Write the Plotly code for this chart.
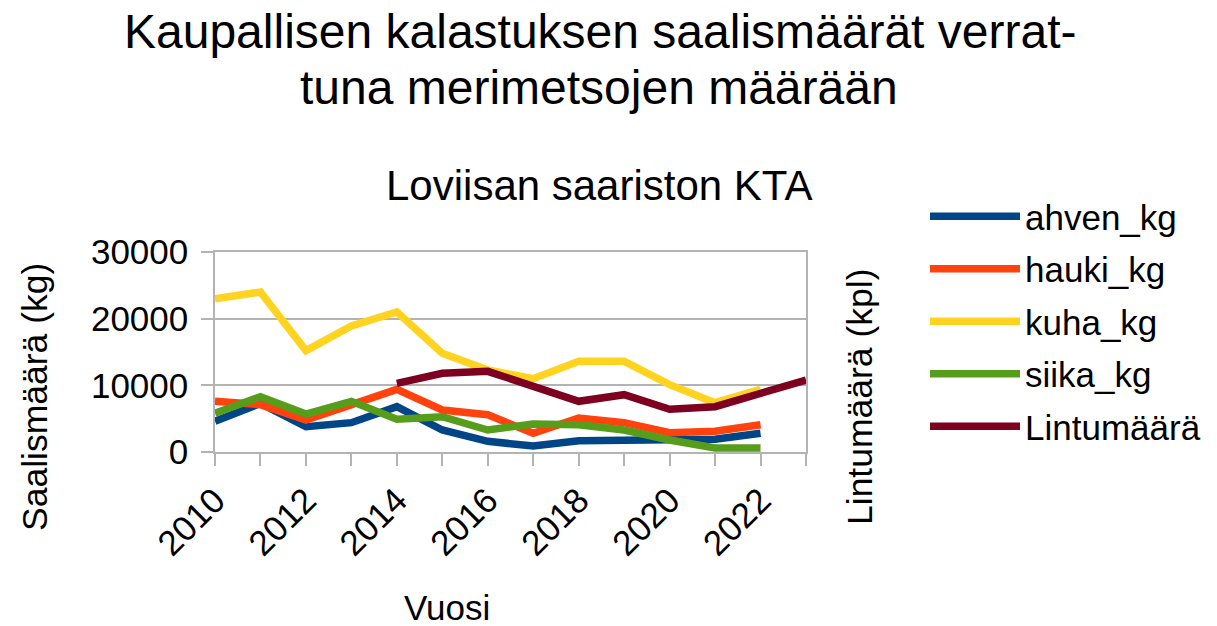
import plotly.graph_objects as go

years_fish = list(range(2010, 2023))
years_bird = list(range(2014, 2024))

ahven_kg = [4600, 7300, 3800, 4400, 6800, 3300, 1600, 900, 1700, 1700, 1800, 1900, 2800]
hauki_kg = [7600, 7100, 4800, 7100, 9400, 6300, 5600, 2800, 5100, 4400, 2900, 3100, 4100]
kuha_kg = [23000, 24000, 15200, 18900, 21000, 14800, 12300, 11000, 13600, 13600, 10100, 7400, 9400]
siika_kg = [5800, 8300, 5700, 7600, 4900, 5300, 3300, 4200, 4100, 3300, 1800, 600, 600]
lintumaara = [10300, 11800, 12100, 9800, 7600, 8600, 6400, 6800, 8800, 10800]

series_names = ["ahven_kg", "hauki_kg", "kuha_kg", "siika_kg", "Lintumäärä"]
series_colors = ["#004586", "#ff420e", "#ffd320", "#579d1c", "#7e0021"]

title_lines = ["Kaupallisen kalastuksen saalismäärät verrat-", "tuna merimetsojen määrään"]
subtitle_text = "Loviisan saariston KTA"
y_title = "Saalismäärä (kg)"
y2_title = "Lintumäärä (kpl)"
x_title = "Vuosi"

FONT = "Liberation Sans, Arial, sans-serif"
W, H = 1217, 626
L, T = 215, 252
pw, ph = 591, 200
R, B = W - L - pw, H - T - ph


def px(x):
    return (x - L) / pw


def py(y):
    return (H - B - y) / ph


fig = go.Figure()
fish = [ahven_kg, hauki_kg, kuha_kg, siika_kg]
for i, vals in enumerate(fish):
    fig.add_trace(go.Scatter(
        x=years_fish, y=vals, mode="lines", name=series_names[i],
        line=dict(color=series_colors[i], width=7.5), legendgroup=series_names[i]))
fig.add_trace(go.Scatter(
    x=years_bird, y=lintumaara, mode="lines", name=series_names[4],
    line=dict(color=series_colors[4], width=7.5), yaxis="y2", legendgroup=series_names[4]))

grid = "#b3b3b3"
fig.update_layout(
    width=W, height=H,
    margin=dict(l=L, r=R, t=T, b=B, autoexpand=False),
    paper_bgcolor="white", plot_bgcolor="white",
    font=dict(family=FONT, size=35, color="black"),
    xaxis=dict(
        range=[2010, 2023], tickmode="linear", tick0=2010, dtick=2,
        tickangle=-45, ticks="outside", ticklen=12, tickcolor=grid, tickwidth=1.5,
        minor=dict(ticks="outside", dtick=1, tick0=2010, ticklen=12, tickcolor=grid, tickwidth=1.5, showgrid=False),
        showgrid=False, showline=True, linecolor=grid, linewidth=1.5, mirror=True,
        zeroline=False, tickfont=dict(size=35), tickformat="d",
    ),
    yaxis=dict(
        range=[0, 30000], tickmode="linear", tick0=0, dtick=10000, tickformat="d",
        ticks="outside", ticklen=12, tickcolor=grid, tickwidth=1.5,
        showgrid=True, gridcolor=grid, gridwidth=1.5,
        showline=True, linecolor=grid, linewidth=1.5, mirror=True,
        zeroline=False, tickfont=dict(size=35), ticklabelstandoff=6,
    ),
    yaxis2=dict(
        range=[0, 30000], overlaying="y", side="right",
        showgrid=False, showticklabels=False, ticks="", zeroline=False, showline=False,
    ),
    showlegend=True,
    legend=dict(
        x=px(925), y=py(187), xanchor="left", yanchor="top",
        font=dict(size=35), tracegroupgap=4, itemwidth=90,
        bgcolor="rgba(0,0,0,0)",
    ),
)

ann = dict(xref="paper", yref="paper", showarrow=False, xanchor="center", yanchor="middle")
fig.add_annotation(text=title_lines[0], x=px(600), y=py(32), font=dict(size=48), **ann)
fig.add_annotation(text=title_lines[1], x=px(599), y=py(87), font=dict(size=48), **ann)
fig.add_annotation(text=subtitle_text, x=px(599), y=py(185), font=dict(size=42), **ann)
fig.add_annotation(text=y_title, x=px(35), y=py(397), textangle=-90, font=dict(size=35.5), **ann)
fig.add_annotation(text=y2_title, x=px(860), y=py(397), textangle=-90, font=dict(size=35.5), **ann)
fig.add_annotation(text=x_title, x=px(447), y=py(607), font=dict(size=35), **ann)

fig.write_html("out.html", config={"displayModeBar": False},
               post_script="document.body.style.margin='0';")
